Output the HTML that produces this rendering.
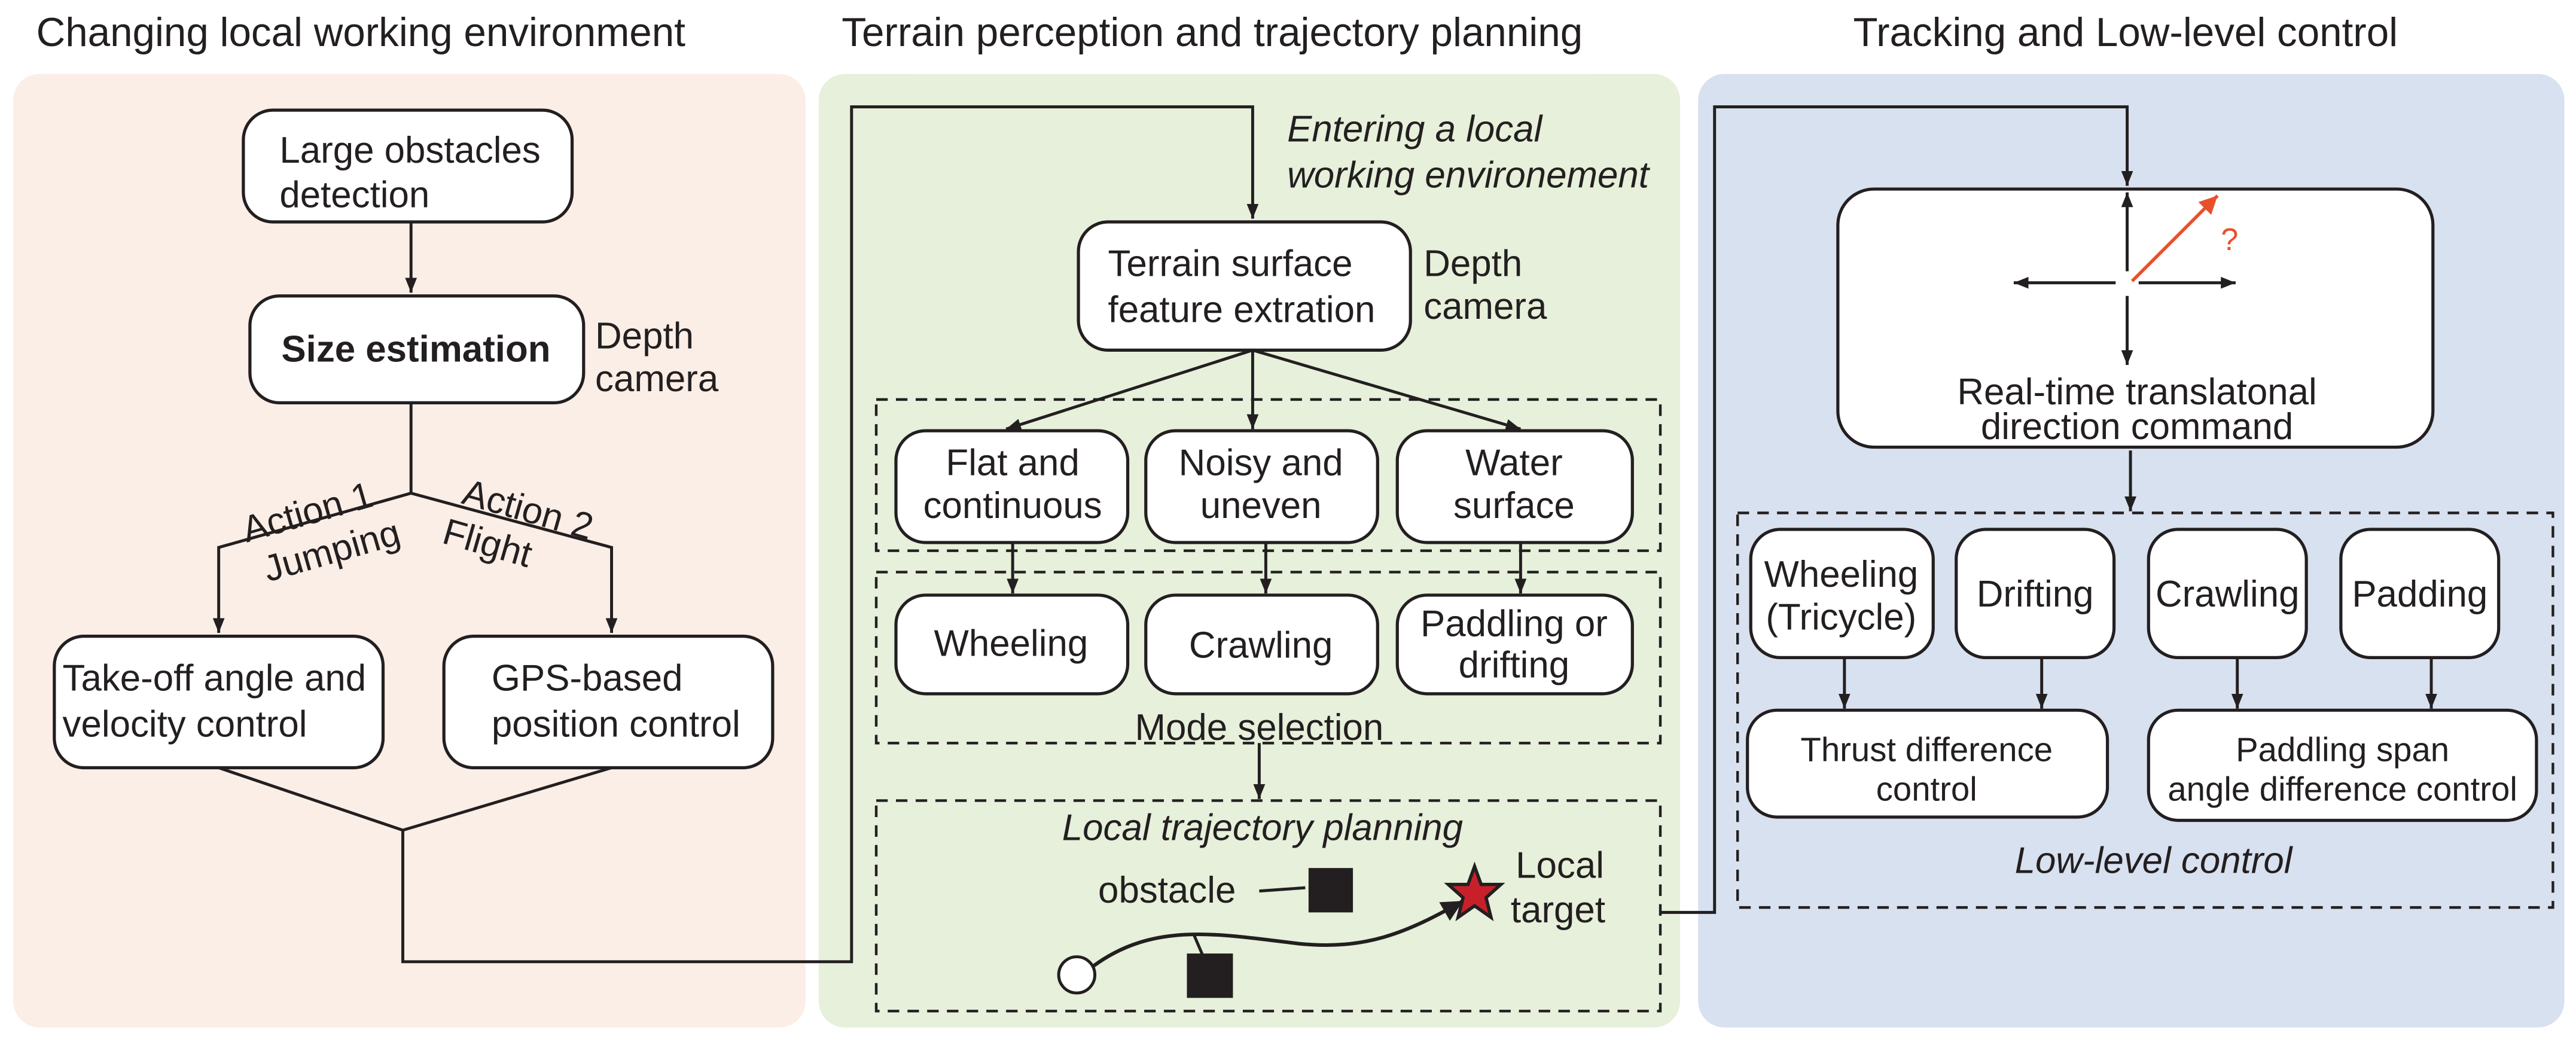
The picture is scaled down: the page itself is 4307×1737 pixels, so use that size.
<!DOCTYPE html>
<html><head><meta charset="utf-8"><style>
html,body{margin:0;padding:0;background:#fff;}
svg{display:block;}
text{font-family:"Liberation Sans",sans-serif;fill:#231f20;}
.t{font-size:24.5px;}
.n{font-size:22.5px;}
.s{font-size:20.5px;}
.i{font-style:italic;}
</style></head><body>
<svg width="4307" height="1737" viewBox="0 0 1567 632" xmlns="http://www.w3.org/2000/svg">
<defs>
<marker id="a" viewBox="0 0 10 10" refX="10" refY="5" markerWidth="9" markerHeight="9" orient="auto-start-reverse" markerUnits="userSpaceOnUse"><path d="M0,1 L10,5 L0,9 z" fill="#231f20"/></marker>
<marker id="a2" viewBox="0 0 10 10" refX="10" refY="5" markerWidth="13" markerHeight="13" orient="auto" markerUnits="userSpaceOnUse"><path d="M0,0 L10,5 L0,10 z" fill="#231f20"/></marker>
<marker id="r" viewBox="0 0 10 10" refX="10" refY="5" markerWidth="11" markerHeight="11" orient="auto" markerUnits="userSpaceOnUse"><path d="M0,0 L10,5 L0,10 z" fill="#e8502a"/></marker>
</defs>
<rect x="8" y="45" width="482" height="580" rx="16" fill="#fbeee6"/>
<rect x="498" y="45" width="524" height="580" rx="16" fill="#e6f0da"/>
<rect x="1033" y="45" width="527" height="580" rx="16" fill="#d8e1ef"/>
<text class="t" x="22" y="28">Changing local working environment</text>
<text class="t" x="512" y="28">Terrain perception and trajectory planning</text>
<text class="t" x="1293" y="28" text-anchor="middle">Tracking and Low-level control</text>

<g fill="#fff" stroke="#231f20" stroke-width="1.9">
<rect x="148" y="67" width="200" height="68" rx="18"/>
<rect x="152" y="180" width="203" height="65" rx="18"/>
<rect x="33" y="387" width="200" height="80" rx="18"/>
<rect x="270" y="387" width="200" height="80" rx="18"/>
<rect x="656" y="135" width="202" height="78" rx="18"/>
<rect x="545" y="262" width="141" height="68" rx="18"/>
<rect x="697" y="262" width="141" height="68" rx="18"/>
<rect x="850" y="262" width="143" height="68" rx="18"/>
<rect x="545" y="362" width="141" height="60" rx="18"/>
<rect x="697" y="362" width="141" height="60" rx="18"/>
<rect x="850" y="362" width="143" height="60" rx="18"/>
<rect x="1118" y="115" width="362" height="157" rx="22"/>
<rect x="1065" y="322" width="111" height="78" rx="18"/>
<rect x="1190" y="322" width="96" height="78" rx="18"/>
<rect x="1307" y="322" width="96" height="78" rx="18"/>
<rect x="1424" y="322" width="96" height="78" rx="18"/>
<rect x="1063" y="432" width="219" height="65" rx="18"/>
<rect x="1307" y="432" width="236" height="67" rx="18"/>
</g>

<g fill="none" stroke="#231f20" stroke-width="1.6" stroke-dasharray="7,5">
<rect x="533" y="243" width="477" height="92"/>
<rect x="533" y="348" width="477" height="104"/>
<rect x="533" y="487" width="477" height="128"/>
<rect x="1057" y="312" width="496" height="240"/>
</g>

<g fill="none" stroke="#231f20" stroke-width="1.8">
<line x1="250" y1="135" x2="250" y2="178" marker-end="url(#a)"/>
<polyline points="250,245 250,300 133,333 133,385" marker-end="url(#a)"/>
<polyline points="250,300 372,333 372,385" marker-end="url(#a)"/>
<polyline points="133,467 245,505 372,467"/>
<polyline points="245,505 245,585 518,585 518,65 762,65 762,133" marker-end="url(#a)"/>
<line x1="762" y1="213" x2="612" y2="261" marker-end="url(#a)"/>
<line x1="762" y1="213" x2="762" y2="261" marker-end="url(#a)"/>
<line x1="762" y1="213" x2="925" y2="261" marker-end="url(#a)"/>
<line x1="616" y1="330" x2="616" y2="361" marker-end="url(#a)"/>
<line x1="770" y1="330" x2="770" y2="361" marker-end="url(#a)"/>
<line x1="925" y1="330" x2="925" y2="361" marker-end="url(#a)"/>
<line x1="766" y1="452" x2="766" y2="486" marker-end="url(#a)"/>
<path d="M662,590 C700,560 740,568 790,574 C830,578 855,568 890,548" stroke-width="2.2" marker-end="url(#a2)"/>
<line x1="766" y1="542" x2="794" y2="540"/>
<line x1="726" y1="568" x2="732" y2="582"/>
<polyline points="1010,555 1043,555 1043,65 1294,65 1294,113" marker-end="url(#a)"/>
<line x1="1294" y1="165" x2="1294" y2="117" marker-end="url(#a)"/>
<line x1="1294" y1="180" x2="1294" y2="222" marker-end="url(#a)"/>
<line x1="1287" y1="172" x2="1225" y2="172" marker-end="url(#a)"/>
<line x1="1301" y1="172" x2="1360" y2="172" marker-end="url(#a)"/>
<line x1="1296" y1="274" x2="1296" y2="311" marker-end="url(#a)"/>
<line x1="1122" y1="400" x2="1122" y2="431" marker-end="url(#a)"/>
<line x1="1242" y1="400" x2="1242" y2="431" marker-end="url(#a)"/>
<line x1="1361" y1="400" x2="1361" y2="431" marker-end="url(#a)"/>
<line x1="1479" y1="400" x2="1479" y2="431" marker-end="url(#a)"/>
</g>
<line x1="1297" y1="171" x2="1349" y2="119" stroke="#e8502a" stroke-width="2" marker-end="url(#r)"/>
<text x="1351" y="152" font-size="19" style="fill:#e8502a">?</text>

<circle cx="655" cy="593" r="11" fill="#fff" stroke="#231f20" stroke-width="1.8"/>
<rect x="796" y="528" width="27" height="27" fill="#231f20"/>
<rect x="722" y="580" width="28" height="27" fill="#231f20"/>
<polygon points="897,527 901,538 913,538 904,546 907,558 897,551 887,558 890,546 881,538 893,538" fill="#c8202a" stroke="#231f20" stroke-width="2"/>

<text class="n" x="170" y="99">Large obstacles</text>
<text class="n" x="170" y="126">detection</text>
<text class="n" x="253" y="220" text-anchor="middle" font-weight="bold">Size estimation</text>
<text class="n" x="362" y="212">Depth</text>
<text class="n" x="362" y="238">camera</text>
<text class="n" x="0" y="0" transform="translate(150,330) rotate(-16)">Action 1</text>
<text class="n" x="0" y="0" transform="translate(163,354) rotate(-16)">Jumping</text>
<text class="n" x="0" y="0" transform="translate(280,306) rotate(16)">Action 2</text>
<text class="n" x="0" y="0" transform="translate(268,330) rotate(16)">Flight</text>
<text class="n" x="38" y="420">Take-off angle and</text>
<text class="n" x="38" y="448">velocity control</text>
<text class="n" x="299" y="420">GPS-based</text>
<text class="n" x="299" y="448">position control</text>

<text class="n i" x="783" y="86">Entering a local</text>
<text class="n i" x="783" y="114">working environement</text>
<text class="n" x="674" y="168">Terrain surface</text>
<text class="n" x="674" y="196">feature extration</text>
<text class="n" x="866" y="168">Depth</text>
<text class="n" x="866" y="194">camera</text>
<text class="n" x="616" y="289" text-anchor="middle">Flat and</text>
<text class="n" x="616" y="315" text-anchor="middle">continuous</text>
<text class="n" x="767" y="289" text-anchor="middle">Noisy and</text>
<text class="n" x="767" y="315" text-anchor="middle">uneven</text>
<text class="n" x="921" y="289" text-anchor="middle">Water</text>
<text class="n" x="921" y="315" text-anchor="middle">surface</text>
<text class="n" x="615" y="399" text-anchor="middle">Wheeling</text>
<text class="n" x="767" y="400" text-anchor="middle">Crawling</text>
<text class="n" x="921" y="387" text-anchor="middle">Paddling or</text>
<text class="n" x="921" y="412" text-anchor="middle">drifting</text>
<text class="n" x="766" y="450" text-anchor="middle">Mode selection</text>
<text class="n i" x="768" y="511" text-anchor="middle">Local trajectory planning</text>
<text class="n" x="668" y="549">obstacle</text>
<text class="n" x="922" y="534">Local</text>
<text class="n" x="919" y="561">target</text>

<text class="n" x="1300" y="246" text-anchor="middle">Real-time translatonal</text>
<text class="n" x="1300" y="267" text-anchor="middle">direction command</text>
<text class="n" x="1120" y="357" text-anchor="middle">Wheeling</text>
<text class="n" x="1120" y="383" text-anchor="middle">(Tricycle)</text>
<text class="n" x="1238" y="369" text-anchor="middle">Drifting</text>
<text class="n" x="1355" y="369" text-anchor="middle">Crawling</text>
<text class="n" x="1472" y="369" text-anchor="middle">Padding</text>
<text class="s" x="1172" y="463" text-anchor="middle">Thrust difference</text>
<text class="s" x="1172" y="487" text-anchor="middle">control</text>
<text class="s" x="1425" y="463" text-anchor="middle">Paddling span</text>
<text class="s" x="1425" y="487" text-anchor="middle">angle difference control</text>
<text class="n i" x="1310" y="531" text-anchor="middle">Low-level control</text>
</svg>
</body></html>
